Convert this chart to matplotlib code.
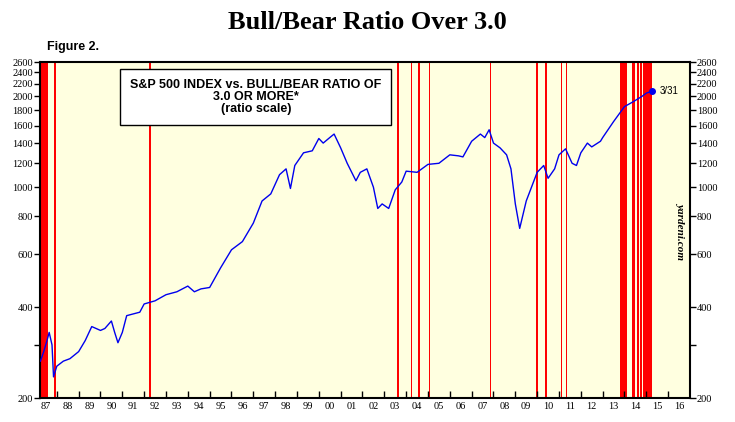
import matplotlib
matplotlib.use("Agg")
import matplotlib.pyplot as plt
from matplotlib.ticker import FixedLocator, NullFormatter, NullLocator

years = [1987.25,1987.4,1987.55,1987.65,1987.78,1987.85,1988.0,1988.3,1988.6,1989.0,1989.3,1989.6,1989.8,1990.0,1990.2,1990.5,1990.65,1990.8,1991.0,1991.2,1991.5,1991.8,1992.0,1992.5,1993.0,1993.5,1994.0,1994.3,1994.6,1995.0,1995.5,1996.0,1996.5,1997.0,1997.4,1997.8,1998.2,1998.5,1998.7,1998.9,1999.3,1999.7,2000.0,2000.2,2000.5,2000.7,2001.0,2001.3,2001.7,2001.9,2002.2,2002.5,2002.7,2002.9,2003.2,2003.5,2003.8,2004.0,2004.5,2005.0,2005.5,2006.0,2006.4,2006.6,2007.0,2007.4,2007.6,2007.8,2008.0,2008.3,2008.6,2008.8,2009.0,2009.2,2009.5,2010.0,2010.3,2010.5,2010.8,2011.0,2011.3,2011.6,2011.8,2012.0,2012.3,2012.5,2012.9,2013.0,2013.5,2014.0,2014.4,2014.8,2015.0,2015.25]
spx = [265,285,310,330,300,235,255,265,270,285,310,345,340,335,340,360,330,305,330,375,380,385,410,420,440,450,470,450,460,465,540,620,660,760,900,950,1100,1150,990,1180,1300,1320,1450,1400,1460,1500,1350,1200,1050,1120,1150,1000,850,880,850,980,1040,1130,1120,1190,1200,1280,1270,1260,1420,1500,1460,1550,1400,1350,1280,1150,880,730,900,1120,1180,1070,1150,1280,1340,1200,1180,1300,1400,1360,1420,1460,1650,1850,1920,2000,2050,2080]

bull_bear_periods = [(1987.25,1987.6),(1987.88,1987.95),(1992.24,1992.3),
                     (2003.58,2003.65),(2004.2,2004.28),(2004.55,2004.62),(2005.04,2005.1),
                     (2007.84,2007.9),(2009.95,2010.05),(2010.38,2010.43),(2011.1,2011.16),(2011.3,2011.35),
                     (2013.8,2014.12),(2014.35,2014.5),(2014.55,2014.65),(2014.7,2014.82),(2014.87,2015.25)]
year_labels = ["87","88","89","90","91","92","93","94","95","96","97","98","99","00","01","02","03","04","05","06","07","08","09","10","11","12","13","14","15","16"]
yticks = [200,400,600,800,1000,1200,1400,1600,1800,2000,2200,2400,2600]

fig = plt.figure(figsize=(7.35,4.22), dpi=100)
ax = fig.add_axes([40/735, 24/422, 650/735, 336/422])
ax.set_facecolor("#FFFFE0")
for a,b in bull_bear_periods:
    ax.axvspan(a, max(b, a+0.05), color="#FF0000", lw=0, zorder=1)
ax.plot(years, spx, color="#0000EE", lw=1.0, zorder=3)
ax.plot([years[-1]], [spx[-1]], marker="o", ms=4, color="#0000EE", zorder=4)
ax.text(years[-1]+0.35, spx[-1], "3/31", fontsize=7, fontfamily="Liberation Sans", va="center")
ax.set_yscale("log")
ax.set_ylim(200, 2600)
ax.set_xlim(1987.23, 2017.0)
ax.yaxis.set_major_locator(FixedLocator(yticks))
ax.yaxis.set_minor_locator(FixedLocator([300]))
ax.yaxis.set_minor_formatter(NullFormatter())
ax.set_yticklabels([str(v) for v in yticks], fontfamily="Liberation Serif", fontsize=7.5)
ax.tick_params(axis="y", which="both", right=True, labelright=True, length=4, width=1, pad=1)
ax.xaxis.set_major_locator(FixedLocator(range(1988, 2017)))
ax.xaxis.set_minor_locator(FixedLocator([y+0.5 for y in range(1987, 2017)]))
ax.xaxis.set_minor_formatter(plt.FixedFormatter(year_labels))
ax.xaxis.set_major_formatter(NullFormatter())
ax.tick_params(axis="x", which="major", length=5, width=1, direction="in")
ax.tick_params(axis="x", which="minor", length=0, pad=3, labelsize=7.5)
for lbl in ax.get_xticklabels(minor=True):
    lbl.set_fontfamily("Liberation Serif")
for s in ax.spines.values():
    s.set_linewidth(1.5)

fig.text(0.5, 0.975, "Bull/Bear Ratio Over 3.0", ha="center", va="top", fontsize=19,
         fontweight="bold", fontfamily="Liberation Serif")
fig.text(47/735, 1-47/422, "Figure 2.", ha="left", va="center", fontsize=9, fontweight="bold",
         fontfamily="Liberation Sans")
ax.text(0.332, 0.95, "S&P 500 INDEX vs. BULL/BEAR RATIO OF\n3.0 OR MORE*\n(ratio scale)",
        transform=ax.transAxes, ha="center", va="top", fontsize=9, fontweight="bold",
        fontfamily="Liberation Sans", linespacing=1.0, zorder=5,
        bbox=dict(boxstyle="square,pad=0.8", fc="white", ec="black", lw=1))
ax.text(0.985, 0.5, "yardeni.com", transform=ax.transAxes, rotation=-90, ha="center", va="center",
        fontsize=8, fontstyle="italic", fontweight="bold", fontfamily="Liberation Serif")
fig.savefig("out.png", dpi=100)
